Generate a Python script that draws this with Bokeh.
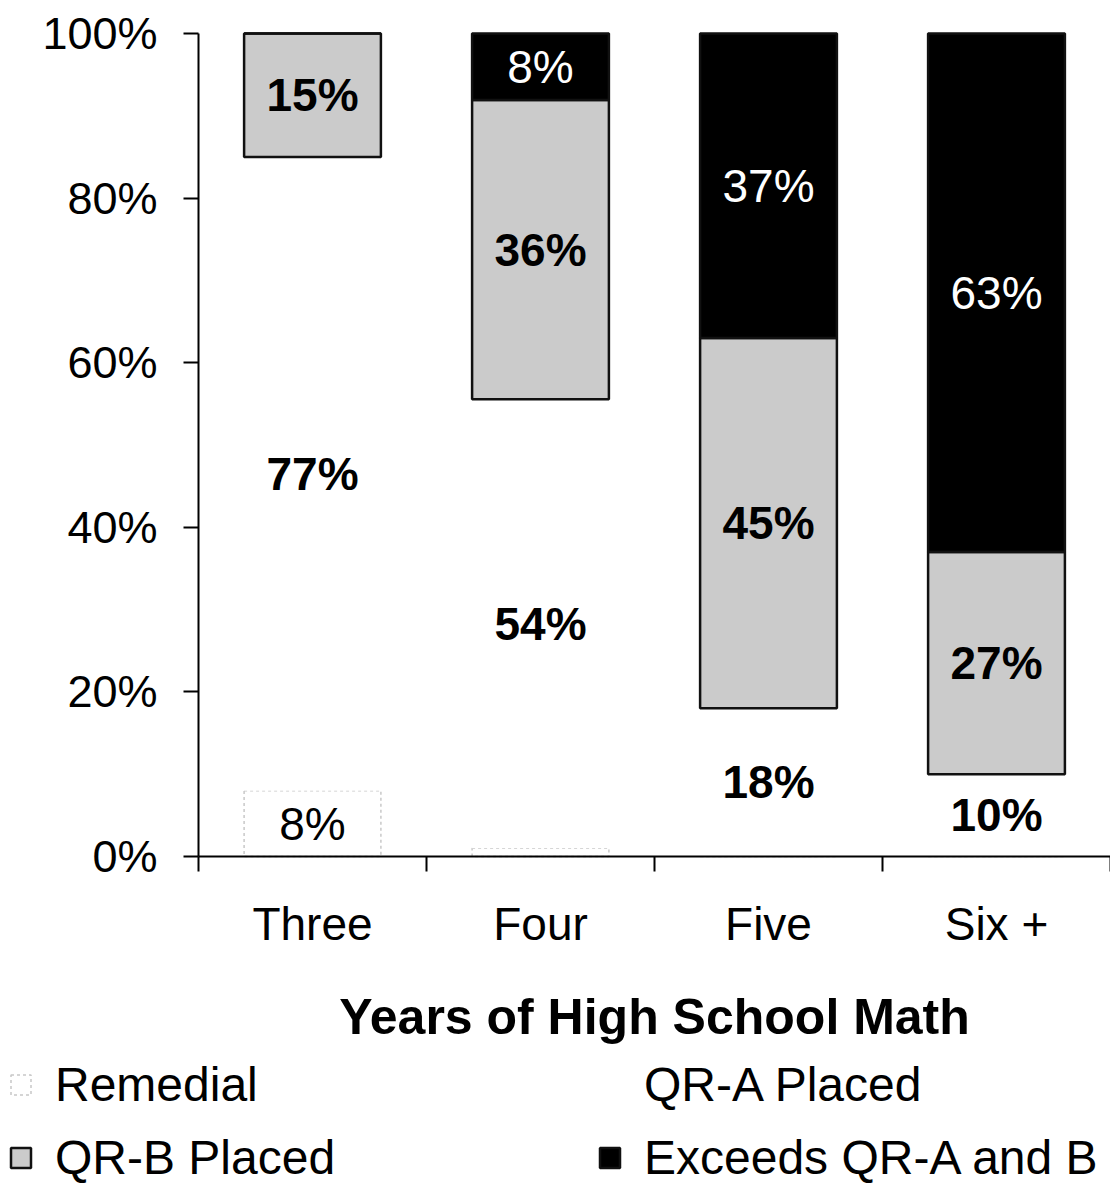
import numpy as np
from bokeh.plotting import figure
from bokeh.models import (ColumnDataSource, Range1d, FixedTicker, PrintfTickFormatter,
                          Legend, LegendItem)
from bokeh.core.properties import value
from bokeh.embed import file_html
from bokeh.resources import INLINE

# ---- data ----
categories = ["Three", "Four", "Five", "Six +"]
series_names = ["Remedial", "QR-A Placed", "QR-B Placed", "Exceeds QR-A and B"]
remedial = [8, 1, 0, 0]
qr_a = [77, 54, 18, 10]
qr_b = [15, 36, 45, 27]
exceeds = [0, 8, 37, 63]
y_ticks = [0, 20, 40, 60, 80, 100]
x_title = "Years of High School Math"

FONT = "Liberation Sans"
fills = ["#ffffff", "#ffffff", "#cbcbcb", "#000000"]
line_colors = ["#c8c8c8", None, "#111111", "#111111"]
line_dashes = ["3 3", "solid", "solid", "solid"]
label_colors = ["#000000", "#000000", "#000000", "#ffffff"]
label_styles = ["normal", "bold", "bold", "normal"]

raw = np.array([remedial, qr_a, qr_b, exceeds], dtype=float)
pct = raw / raw.sum(axis=0) * 100.0          # 100% stacked
tops = np.cumsum(pct, axis=0)
bottoms = tops - pct
xs = [i + 0.5 for i in range(len(categories))]

# layout (pixels): the frame fills the whole figure, axes are pinned at 0
W, H = 1110, 1187
AX_X, AX_TOP, AX_BOT = 198, 33, 856
ncat = len(categories)
px_per_cat = (W - AX_X) / ncat
px_per_pct = (AX_BOT - AX_TOP) / 100.0
x_range = Range1d(-AX_X / px_per_cat, ncat)
y_range = Range1d(-(H - AX_BOT) / px_per_pct, 100 + AX_TOP / px_per_pct)

p = figure(width=W, height=H, output_backend="svg", toolbar_location=None,
           x_range=x_range, y_range=y_range,
           min_border_left=0, min_border_right=0, min_border_top=0, min_border_bottom=0)
p.outline_line_color = None
p.grid.visible = False
p.background_fill_color = "white"
p.border_fill_color = "white"

renderers = []
for i, name in enumerate(series_names):
    src = ColumnDataSource(dict(x=xs, bottom=bottoms[i], top=tops[i]))
    r = p.vbar(x="x", bottom="bottom", top="top", width=0.6, source=src,
               fill_color=fills[i], line_color=line_colors[i],
               line_width=2.5 if i >= 2 else 1.5, line_dash=line_dashes[i])
    renderers.append(r)

# segment labels
lx, ly, lt, lc, ls = [], [], [], [], []
for i in range(len(series_names)):
    for j in range(len(categories)):
        v = raw[i, j]
        if v >= 2:
            lx.append(xs[j]); ly.append((bottoms[i, j] + tops[i, j]) / 2)
            lt.append(f"{int(v)}%"); lc.append(label_colors[i]); ls.append(label_styles[i])
lab = ColumnDataSource(dict(x=lx, y=ly, text=lt, color=lc, style=ls))
p.text(x="x", y="y", text="text", source=lab, text_color="color",
       text_font_style="style", text_font=value(FONT), text_font_size="46px",
       text_align="center", text_baseline="middle")

# x axis
xa = p.xaxis[0]
xa.fixed_location = 0
xa.bounds = (0, ncat)
xa.ticker = FixedTicker(ticks=xs, minor_ticks=list(range(ncat + 1)))
xa.major_label_overrides = {x: c for x, c in zip(xs, categories)}
xa.major_tick_line_color = None
xa.major_tick_out = 15
xa.major_tick_in = 0
xa.minor_tick_out = 15
xa.minor_tick_in = 0
xa.minor_tick_line_color = "black"
xa.minor_tick_line_width = 2
xa.axis_line_width = 2
xa.major_label_standoff = 26
xa.major_label_text_font = FONT
xa.major_label_text_font_size = "46px"
xa.major_label_text_color = "black"
xa.axis_label = x_title
xa.axis_label_text_font = FONT
xa.axis_label_text_font_size = "50px"
xa.axis_label_text_font_style = "bold"
xa.axis_label_text_color = "black"
xa.axis_label_standoff = 36

# y axis
ya = p.yaxis[0]
ya.fixed_location = 0
ya.bounds = (0, 100)
ya.ticker = FixedTicker(ticks=y_ticks)
ya.formatter = PrintfTickFormatter(format="%d%%")
ya.minor_tick_line_color = None
ya.major_tick_out = 15
ya.major_tick_in = 0
ya.major_tick_line_width = 2
ya.axis_line_width = 2
ya.major_label_standoff = 26
ya.major_label_text_font = FONT
ya.major_label_text_font_size = "45px"
ya.major_label_text_color = "black"

legend = Legend(items=[LegendItem(label=n, renderers=[r]) for n, r in zip(series_names, renderers)],
                location=(8, 2), orientation="horizontal", ncols=2,
                label_text_font=FONT, label_text_font_size="48px", label_text_color="black",
                glyph_width=25, glyph_height=25, label_standoff=22, label_width=524,
                spacing=18, padding=0, margin=0,
                background_fill_alpha=0, border_line_color=None)
p.add_layout(legend)

open("out.html", "w").write(file_html(p, INLINE))
